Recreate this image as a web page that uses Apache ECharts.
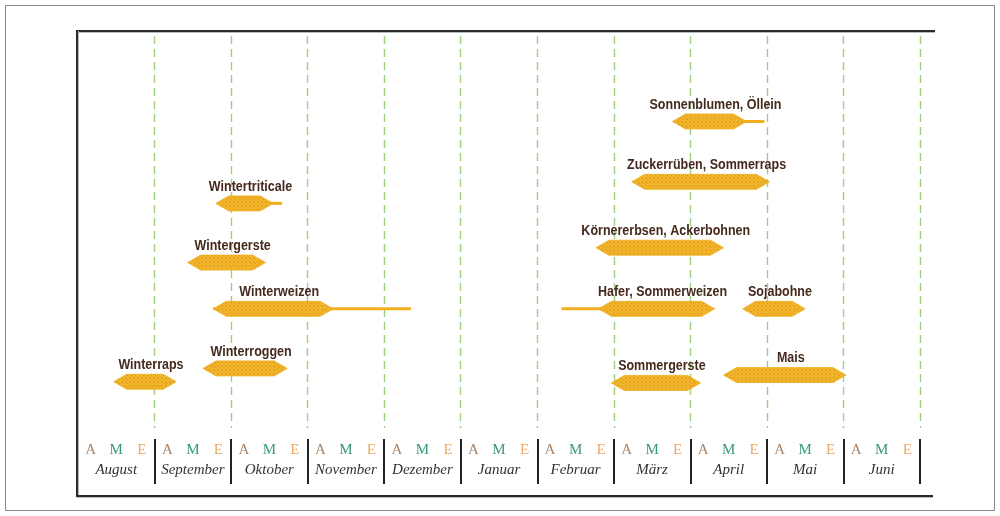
<!DOCTYPE html>
<html>
<head>
<meta charset="utf-8">
<script src="https://cdn.jsdelivr.net/npm/echarts@6/dist/echarts.min.js"></script>
<style>
  html, body { margin: 0; padding: 0; background: #fff; }
  #chart { width: 1000px; height: 516px; }
</style>
</head>
<body>
<div id="chart"></div>
<script>
// months of the sowing calendar, each split into Anfang / Mitte / Ende
var months = ["August", "September", "Oktober", "November", "Dezember", "Januar", "Februar", "März", "April", "Mai", "Juni"];
var thirds = ["A", "M", "E"];

// crops: sowing window in month-thirds counted from the start of August
var crops = ["Winterraps", "Winterroggen", "Wintergerste", "Wintertriticale", "Winterweizen",
  "Hafer, Sommerweizen", "Körnererbsen, Ackerbohnen", "Zuckerrüben, Sommerraps",
  "Sonnenblumen, Öllein", "Sommergerste", "Mais", "Sojabohne"];
var sowStart = [1.4, 4.9, 4.3, 5.4, 5.3, 20.4, 20.3, 21.7, 23.3, 20.9, 25.3, 26.05];
var sowEnd = [3.85, 8.2, 7.35, 7.65, 10.0, 24.95, 25.3, 27.1, 26.2, 24.4, 30.1, 28.5];
// thin extension of the window (possible, but late / early)
var extFrom = [null, null, null, 7.0, 5.3, 18.95, null, null, 25.5, null, null, null];
var extTo = [null, null, null, 8.0, 13.05, 21.0, null, null, 26.9, null, null, null];
// vertical row of each crop (0 = top, 100 = bottom)
var rows = [88.2, 84.8, 57.8, 42.7, 69.6, 69.6, 54.0, 37.2, 21.8, 88.5, 86.5, 69.6];

var chart = echarts.init(document.getElementById("chart"));

// dotted golden fill
var pat = document.createElement("canvas");
pat.width = 4;
pat.height = 4;
var ctx = pat.getContext("2d");
ctx.fillStyle = "#f2b42a";
ctx.fillRect(0, 0, 4, 4);
ctx.fillStyle = "#d99a1e";
ctx.fillRect(1, 1, 1.5, 1.5);
ctx.fillRect(3, 3, 1, 1);

var ameLabels = [];
months.forEach(function () {
  thirds.forEach(function (t) { ameLabels.push(t); });
});

var seriesData = crops.map(function (c, i) {
  return [sowStart[i], sowEnd[i], rows[i]];
});

function renderCrop(params, api) {
  var i = params.dataIndex;
  var a = api.coord([api.value(0), api.value(2)]);
  var b = api.coord([api.value(1), api.value(2)]);
  var y = a[1], h = 7.5, ramp = 13;
  var children = [];
  if (extFrom[i] != null) {
    var e0 = api.coord([extFrom[i], rows[i]]);
    var e1 = api.coord([extTo[i], rows[i]]);
    children.push({
      type: "line",
      shape: { x1: e0[0], y1: y, x2: e1[0], y2: y },
      style: { stroke: "#f2b01e", lineWidth: 3 }
    });
  }
  children.push({
    type: "polygon",
    shape: {
      points: [
        [a[0], y], [a[0] + ramp, y - h], [b[0] - ramp, y - h],
        [b[0], y], [b[0] - ramp, y + h], [a[0] + ramp, y + h]
      ]
    },
    style: { fill: { image: pat, repeat: "repeat" }, stroke: "#f0ae22", lineWidth: 0.8 }
  });
  children.push({
    type: "text",
    x: (a[0] + b[0]) / 2 + 6,
    y: y - 17,
    scaleY: 1.2,
    style: {
      x: 0,
      y: 0,
      text: crops[i],
      fill: "#45291c",
      font: "bold 12.5px 'Liberation Sans', Arial, sans-serif",
      align: "center",
      verticalAlign: "middle"
    }
  });
  return { type: "group", children: children };
}

var ameColors = { A: "#a98466", M: "#3a9a74", E: "#eea866" };

var option = {
  animation: false,
  grid: { left: 78, right: 80, top: 36, bottom: 88 },
  xAxis: [
    {
      type: "value",
      min: 0,
      max: 33,
      interval: 3,
      axisLine: { show: false },
      axisTick: { show: false },
      axisLabel: { show: false },
      splitLine: {
        show: true,
        showMinLine: false,
        lineStyle: { color: "#9ccf7e", type: [8, 5], width: 1.4 }
      }
    },
    {
      type: "category",
      data: ameLabels,
      position: "bottom",
      offset: 0,
      axisLine: { show: false },
      axisTick: { show: false },
      axisLabel: {
        interval: 0,
        margin: 15,
        fontFamily: "'Liberation Serif', 'Times New Roman', serif",
        fontSize: 15,
        formatter: function (v) { return "{" + v + "|" + v + "}"; },
        rich: {
          A: { color: ameColors.A, fontFamily: "'Liberation Serif', serif", fontSize: 15 },
          M: { color: ameColors.M, fontFamily: "'Liberation Serif', serif", fontSize: 15 },
          E: { color: ameColors.E, fontFamily: "'Liberation Serif', serif", fontSize: 15 }
        }
      }
    },
    {
      type: "category",
      data: months,
      position: "bottom",
      offset: 11,
      axisLine: { show: false },
      axisTick: {
        show: true,
        interval: 0,
        length: 45,
        lineStyle: { color: "#222", width: 2 }
      },
      axisLabel: {
        interval: 0,
        margin: 24,
        color: "#333",
        fontStyle: "italic",
        fontFamily: "'Liberation Serif', 'Times New Roman', serif",
        fontSize: 15
      }
    }
  ],
  yAxis: {
    type: "value",
    inverse: true,
    min: 0,
    max: 100,
    show: false
  },
  graphic: [
    { type: "rect", shape: { x: 5.5, y: 5.5, width: 989, height: 505 }, style: { fill: null, stroke: "#8a8a8a", lineWidth: 1 }, z: 100 },
    { type: "line", shape: { x1: 77, y1: 32.5, x2: 935, y2: 32.5 }, style: { stroke: "#bbb", lineWidth: 1 }, z: 100 },
    { type: "line", shape: { x1: 77, y1: 31, x2: 935, y2: 31 }, style: { stroke: "#2a2a2a", lineWidth: 2 }, z: 100 },
    { type: "line", shape: { x1: 78.5, y1: 31, x2: 78.5, y2: 496 }, style: { stroke: "#bbb", lineWidth: 1 }, z: 100 },
    { type: "line", shape: { x1: 77, y1: 30, x2: 77, y2: 497 }, style: { stroke: "#2a2a2a", lineWidth: 2 }, z: 100 },
    { type: "line", shape: { x1: 77, y1: 496, x2: 933, y2: 496 }, style: { stroke: "#2a2a2a", lineWidth: 2 }, z: 100 },
    { type: "line", shape: { x1: 77, y1: 497.5, x2: 933, y2: 497.5 }, style: { stroke: "#bbb", lineWidth: 1 }, z: 100 }
  ],
  series: [
    {
      type: "custom",
      xAxisIndex: 0,
      yAxisIndex: 0,
      renderItem: renderCrop,
      data: seriesData,
      clip: false
    }
  ]
};

chart.setOption(option);
</script>
</body>
</html>
